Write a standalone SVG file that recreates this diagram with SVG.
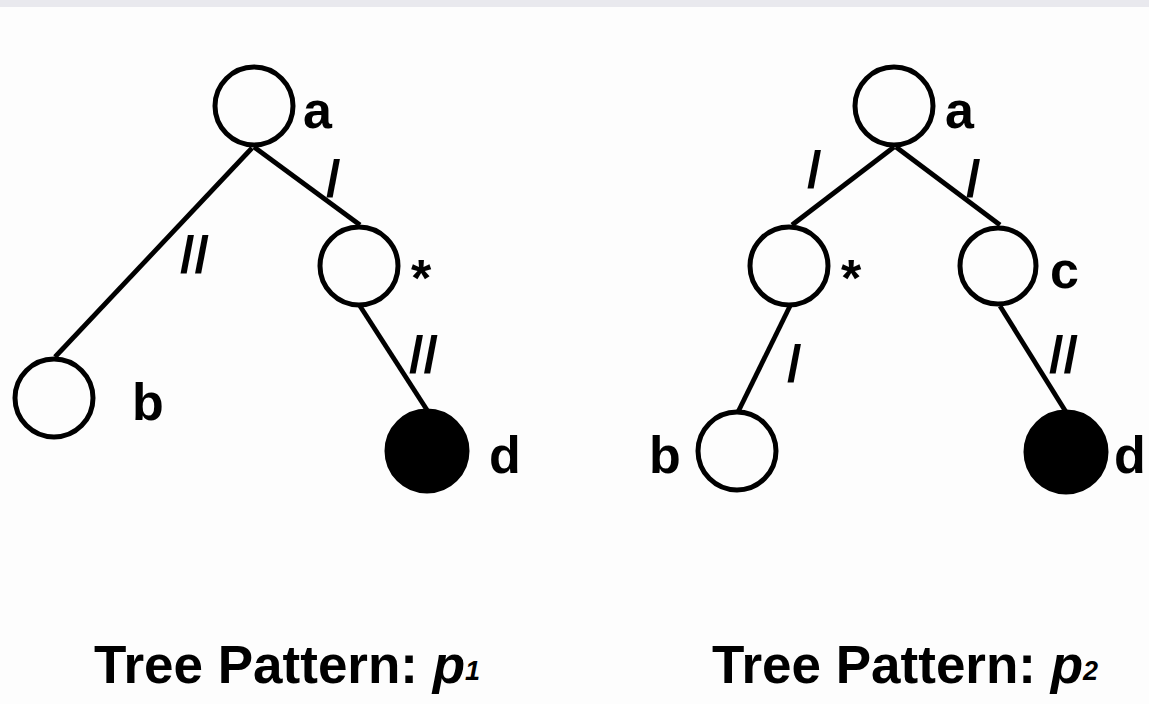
<svg xmlns="http://www.w3.org/2000/svg" width="1149" height="704" viewBox="0 0 1149 704">
<style>
.n{fill:#fdfdfd;stroke:#000;stroke-width:5}
.f{fill:#000;stroke:#000;stroke-width:5}
.e{stroke:#000;stroke-width:4.8;fill:none}
.l{font-family:"Liberation Sans",Arial,sans-serif;font-weight:bold;font-size:52px;fill:#000}
.s{font-family:"Liberation Sans",Arial,sans-serif;font-weight:bold;font-size:52px;fill:#000}
.t{font-family:"Liberation Sans",Arial,sans-serif;font-weight:bold;font-size:53px;fill:#000}
</style>
<rect x="0" y="0" width="1149" height="704" fill="#fdfdfd"/>
<rect x="0" y="0" width="1149" height="7" fill="#e9e9ee"/>
<g id="connectors">
<line class="e" x1="252" y1="148" x2="55" y2="357"/>
<line class="e" x1="254" y1="147" x2="360" y2="225"/>
<line class="e" x1="360" y1="306" x2="427" y2="410"/>
<line class="e" x1="894" y1="147" x2="792" y2="225"/>
<line class="e" x1="896" y1="147" x2="1000" y2="225"/>
<line class="e" x1="790" y1="306" x2="738" y2="412"/>
<line class="e" x1="1000" y1="306" x2="1066" y2="412"/>
<text class="s" x="180" y="273">//</text>
<text class="s" x="326" y="197">/</text>
<text class="s" x="409" y="373">//</text>
<text class="s" x="807" y="188">/</text>
<text class="s" x="966" y="197">/</text>
<text class="s" x="787" y="382">/</text>
<text class="s" x="1049" y="373">//</text>
</g>
<g id="p1-a"><circle class="n" cx="254" cy="106" r="39"/><text class="l" x="303" y="128">a</text></g>
<g id="p1-star"><circle class="n" cx="359" cy="266" r="39"/><text class="l" x="411" y="296">*</text></g>
<g id="p1-b"><circle class="n" cx="54" cy="398" r="39"/><text class="l" x="132" y="420">b</text></g>
<g id="p1-d"><circle class="f" cx="427" cy="451" r="40"/><text class="l" x="489" y="473">d</text></g>
<g id="p2-a"><circle class="n" cx="894" cy="106" r="39"/><text class="l" x="945" y="128">a</text></g>
<g id="p2-star"><circle class="n" cx="789" cy="266" r="39"/><text class="l" x="841" y="296">*</text></g>
<g id="p2-c"><circle class="n" cx="998" cy="266" r="38"/><text class="l" x="1050" y="288">c</text></g>
<g id="p2-b"><circle class="n" cx="737" cy="451" r="39"/><text class="l" x="649" y="473">b</text></g>
<g id="p2-d"><circle class="f" cx="1066" cy="452" r="40"/><text class="l" x="1114" y="473">d</text></g>
<g id="captions">
<text class="t" x="94" y="683">Tree Pattern: <tspan font-style="italic">p</tspan><tspan font-style="italic" font-size="27" dy="-3">1</tspan></text>
<text class="t" x="712" y="683">Tree Pattern: <tspan font-style="italic">p</tspan><tspan font-style="italic" font-size="27" dy="-3">2</tspan></text>
</g>
</svg>
